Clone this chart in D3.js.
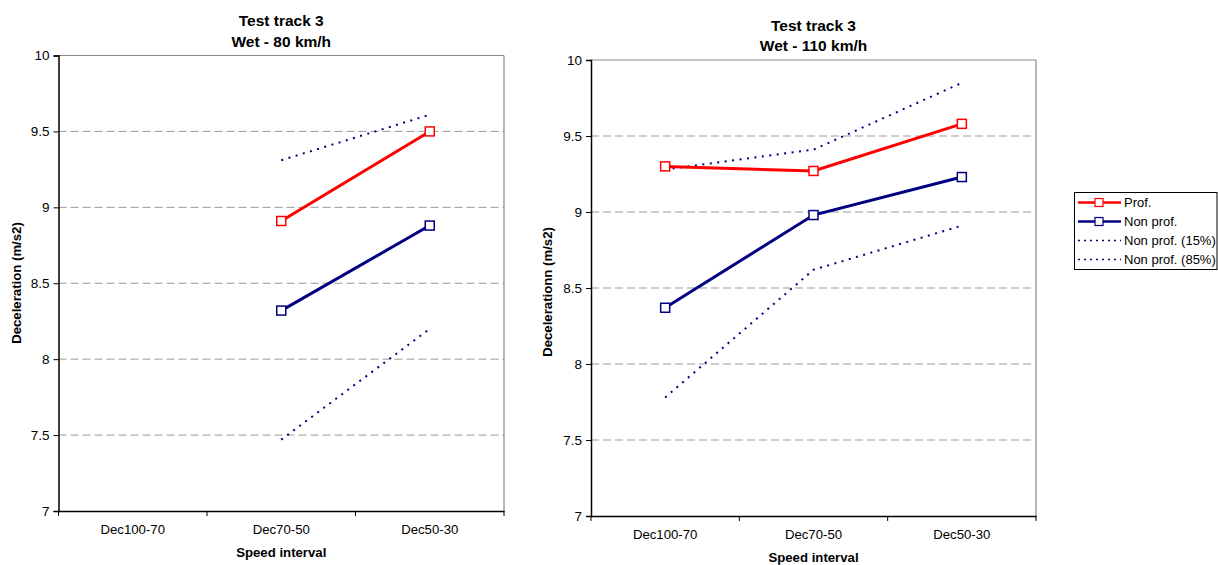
<!DOCTYPE html>
<html><head><meta charset="utf-8">
<script src="https://cdn.jsdelivr.net/npm/d3@7"></script>
<style>
html,body{margin:0;padding:0;background:#fff;}
svg text{font-family:Arial,"Liberation Sans",sans-serif;}
</style></head>
<body>
<svg id="chart" width="1218" height="565"></svg>
<script>
const categories = ["Dec100-70", "Dec70-50", "Dec50-30"];
const yTicks = [7, 7.5, 8, 8.5, 9, 9.5, 10];

// Chart 1: Wet - 80 km/h
const prof80 = [null, 8.91, 9.50];
const nonProf80 = [null, 8.32, 8.88];
const nonProf15_80 = [null, 7.47, 8.20];
const nonProf85_80 = [null, 9.31, 9.61];

// Chart 2: Wet - 110 km/h
const prof110 = [9.30, 9.27, 9.58];
const nonProf110 = [8.37, 8.98, 9.23];
const nonProf15_110 = [7.78, 8.62, 8.91];
const nonProf85_110 = [9.28, 9.41, 9.85];

const seriesNames = ["Prof.", "Non prof.", "Non prof. (15%)", "Non prof. (85%)"];

const svg = d3.select("#chart");
const FONT = "Arial, 'Liberation Sans', sans-serif";

function drawChart(cfg) {
  const g = svg.append("g");
  const x = d3.scaleBand().domain(categories).range([cfg.x0, cfg.x1]);
  const y = d3.scaleLinear().domain([7, 10]).range([cfg.y1, cfg.y0]);
  const cx = d => x(d) + x.bandwidth() / 2;

  // gridlines
  g.selectAll(".grid").data(yTicks.filter(t => t > 7 && t < 10)).enter().append("line")
    .attr("x1", cfg.x0).attr("x2", cfg.x1)
    .attr("y1", d => y(d)).attr("y2", d => y(d))
    .attr("stroke", "#999").attr("stroke-width", 1).attr("stroke-dasharray", "8,4");

  // top and right border
  g.append("line").attr("x1", cfg.x0).attr("x2", cfg.x1).attr("y1", cfg.y0).attr("y2", cfg.y0)
    .attr("stroke", "#888").attr("stroke-width", 1.2);
  g.append("line").attr("x1", cfg.x1).attr("x2", cfg.x1).attr("y1", cfg.y0).attr("y2", cfg.y1)
    .attr("stroke", "#888").attr("stroke-width", 1.2);

  // y axis
  const ya = g.append("g").attr("transform", `translate(${cfg.x0},0)`)
    .call(d3.axisLeft(y).tickValues(yTicks).tickSize(5).tickPadding(4).tickFormat(d3.format("")));
  ya.select(".domain").attr("stroke", "#000").attr("stroke-width", 1.5);
  ya.selectAll(".tick line").attr("stroke", "#000");
  ya.selectAll("text").attr("font-size", 13.5).attr("fill", "#000").style("font-family", FONT);

  // x axis
  const xa = g.append("g").attr("transform", `translate(0,${cfg.y1})`)
    .call(d3.axisBottom(x).tickSize(0).tickPadding(14));
  xa.select(".domain").attr("stroke", "#000").attr("stroke-width", 1.5);
  xa.selectAll("text").attr("font-size", 13.2).attr("fill", "#000").style("font-family", FONT);
  // boundary ticks
  const bounds = categories.map(c => x(c)).concat([cfg.x1]);
  g.selectAll(".bt").data(bounds).enter().append("line")
    .attr("x1", d => d).attr("x2", d => d)
    .attr("y1", cfg.y1).attr("y2", cfg.y1 + 5)
    .attr("stroke", "#000").attr("stroke-width", 1);

  // titles
  const tcx = (cfg.x0 + cfg.x1) / 2;
  g.append("text").attr("x", tcx).attr("y", cfg.t1).attr("text-anchor", "middle")
    .attr("font-size", 15.5).attr("font-weight", "bold").text("Test track 3");
  g.append("text").attr("x", tcx).attr("y", cfg.t2).attr("text-anchor", "middle")
    .attr("font-size", 15.5).attr("font-weight", "bold").text(cfg.subtitle);
  g.append("text").attr("x", tcx).attr("y", cfg.xt).attr("text-anchor", "middle")
    .attr("font-size", 13.2).attr("font-weight", "bold").text("Speed interval");
  g.append("text").attr("transform", `translate(${cfg.ytx},${cfg.yty}) rotate(-90)`)
    .attr("text-anchor", "middle").attr("font-size", 13.2).attr("font-weight", "bold")
    .text(cfg.ytitle);

  const line = d3.line().defined(d => d.v != null).x(d => cx(d.c)).y(d => y(d.v));
  const toPts = arr => categories.map((c, i) => ({ c, v: arr[i] }));

  // dotted percentile lines
  [cfg.p15, cfg.p85].forEach(arr => {
    g.append("path").attr("d", line(toPts(arr))).attr("fill", "none")
      .attr("stroke", "#000080").attr("stroke-width", 2).attr("stroke-dasharray", "2,5.5");
  });

  // main lines
  [[cfg.nonProf, "#000080"], [cfg.prof, "#FF0000"]].forEach(([arr, col]) => {
    const pts = toPts(arr);
    g.append("path").attr("d", line(pts)).attr("fill", "none")
      .attr("stroke", col).attr("stroke-width", 3);
    g.selectAll(null).data(pts.filter(p => p.v != null)).enter().append("rect")
      .attr("x", d => cx(d.c) - 4.5).attr("y", d => y(d.v) - 4.5)
      .attr("width", 9).attr("height", 9)
      .attr("fill", "#fff").attr("stroke", col).attr("stroke-width", 1.5);
  });
}

drawChart({
  x0: 58.5, x1: 504, y0: 55.5, y1: 511, t1: 26, t2: 47, xt: 557, ytx: 21, yty: 283,
  subtitle: "Wet - 80 km/h", ytitle: "Deceleration (m/s2)",
  prof: prof80, nonProf: nonProf80, p15: nonProf15_80, p85: nonProf85_80
});
drawChart({
  x0: 591, x1: 1036, y0: 60, y1: 516, t1: 30.5, t2: 51, xt: 562, ytx: 552, yty: 292,
  subtitle: "Wet - 110 km/h", ytitle: "Decelerationn (m/s2)",
  prof: prof110, nonProf: nonProf110, p15: nonProf15_110, p85: nonProf85_110
});

// legend
const lg = svg.append("g");
lg.append("rect").attr("x", 1074.5).attr("y", 192.5).attr("width", 142.5).attr("height", 77)
  .attr("fill", "#fff").attr("stroke", "#000").attr("stroke-width", 1);
const legendStyles = [
  { col: "#FF0000", w: 2.5, dash: null, marker: true },
  { col: "#000080", w: 2.5, dash: null, marker: true },
  { col: "#000080", w: 1.6, dash: "2,4", marker: false },
  { col: "#000080", w: 1.6, dash: "2,4", marker: false }
];
const ly = d3.scalePoint().domain(seriesNames).range([202.5, 259.5]);
seriesNames.forEach((name, i) => {
  const s = legendStyles[i];
  const yy = ly(name);
  const l = lg.append("line").attr("x1", 1078).attr("x2", 1121).attr("y1", yy).attr("y2", yy)
    .attr("stroke", s.col).attr("stroke-width", s.w);
  if (s.dash) l.attr("stroke-dasharray", s.dash);
  if (s.marker) lg.append("rect").attr("x", 1095).attr("y", yy - 4).attr("width", 8).attr("height", 8)
    .attr("fill", "#fff").attr("stroke", s.col).attr("stroke-width", 1.2);
  lg.append("text").attr("x", 1124).attr("y", yy + 4.5).attr("font-size", 13).text(name);
});
</script>
</body></html>
